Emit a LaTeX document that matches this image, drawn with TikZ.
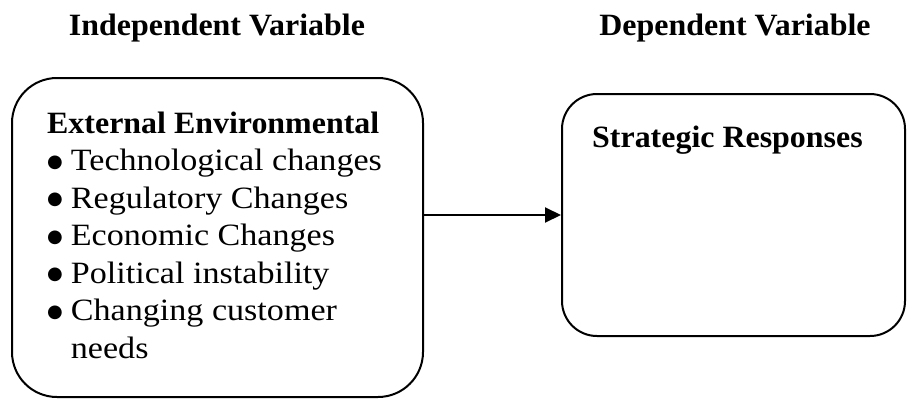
\documentclass[tikz,border=0pt]{standalone}
\usepackage{fontspec}
\setmainfont[FakeStretch=1.1, BoldFeatures={FakeStretch=1.03}]{Liberation Serif}
\newfontfamily\symfont{DejaVu Sans}
\usetikzlibrary{arrows.meta}
\newcommand\bigbullet{\raisebox{3.5pt}{\symfont\fontsize{18}{18}\selectfont ●}}

\begin{document}
\begin{tikzpicture}[x=1pt, y=-1pt, font=\fontsize{31}{37.5}\selectfont]
  \tikzstyle{box} = [rectangle, draw, line width=2pt, rounded corners=45pt, inner sep=0pt]
  \tikzstyle{heading} = [font=\fontsize{31}{37.5}\selectfont\bfseries, inner sep=0pt]
  \useasboundingbox (0,0) rectangle (907,399);
  \node[heading, anchor=base] (indep) at (217,35) {Independent Variable};
  \node[heading, anchor=base] (dep) at (735,35) {Dependent Variable};
  \node[box, minimum width=411pt, minimum height=319pt] (ext) at (217.5,237.5) {};
  \node[box, rounded corners=35pt, minimum width=343pt, minimum height=242pt] (strat) at (733.5,215) {};
  \node[anchor=base west, inner sep=0pt] (extlist) at (47,133) {%
    \begin{tabular}[t]{@{}l@{\hspace{8pt}}l@{}}
      \multicolumn{2}{@{}l}{\textbf{External Environmental}}\\
      \bigbullet&Technological changes\\
      \bigbullet&Regulatory Changes\\
      \bigbullet&Economic Changes\\
      \bigbullet&Political instability\\
      \bigbullet&Changing customer\\
      &needs
    \end{tabular}};
  \node[heading, anchor=base west] (resp) at (592,147) {Strategic Responses};
  \draw[-{Triangle[length=16pt, width=15pt]}, line width=2pt] (ext.east |- strat.west) -- (strat.west);
\end{tikzpicture}
\end{document}
